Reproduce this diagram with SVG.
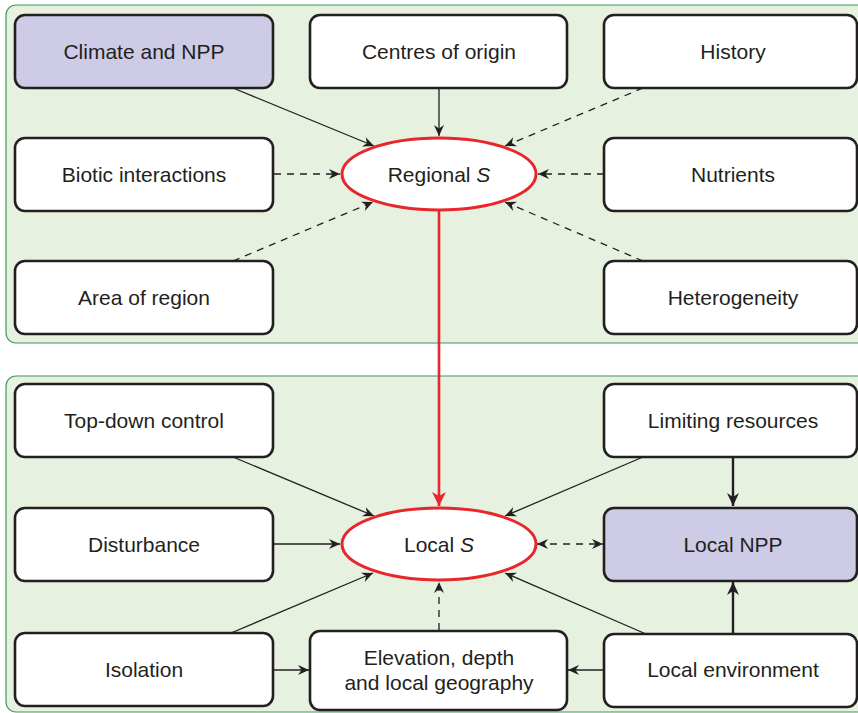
<svg xmlns="http://www.w3.org/2000/svg" width="858" height="713" viewBox="0 0 858 713">
  <style>
    .panel { fill: #e6f1df; stroke: #3d9a5c; stroke-width: 1.2; }
    .box { fill: #ffffff; stroke: #231f20; stroke-width: 2.6; }
    .npp { fill: #cdcbe6; stroke: #231f20; stroke-width: 2.6; }
    .ell { fill: #ffffff; stroke: #e8262b; stroke-width: 3; }
    text { font-family: "Liberation Sans", Arial, sans-serif; font-size: 21px; fill: #231f20; text-anchor: middle; }
    .solid { stroke: #231f20; stroke-width: 1.3; fill: none; marker-end: url(#arr); }
    .thick { stroke: #231f20; stroke-width: 2.4; fill: none; marker-end: url(#arrT); }
    .dash { stroke: #231f20; stroke-width: 1.3; fill: none; stroke-dasharray: 7 6; marker-end: url(#arr); }
    .red { stroke: #e8262b; stroke-width: 2.6; fill: none; marker-end: url(#arrR); }
  </style>
  <defs>
    <marker id="arr" viewBox="-12 -6 14 12" refX="0" refY="0" markerWidth="14" markerHeight="12" markerUnits="userSpaceOnUse" orient="auto-start-reverse">
      <path d="M-11,-5 L0,0 L-11,5 L-7.5,0 z" fill="#231f20"/>
    </marker>
    <marker id="arrT" viewBox="-14 -7 16 14" refX="0" refY="0" markerWidth="16" markerHeight="14" markerUnits="userSpaceOnUse" orient="auto">
      <path d="M-13,-6 L0,0 L-13,6 L-9,0 z" fill="#231f20"/>
    </marker>
    <marker id="arrR" viewBox="-15 -8 17 16" refX="0" refY="0" markerWidth="17" markerHeight="16" markerUnits="userSpaceOnUse" orient="auto">
      <path d="M-14,-7 L0,0 L-14,7 L-10,0 z" fill="#e8262b"/>
    </marker>
  </defs>

  <!-- background panels -->
  <rect class="panel" x="6" y="5" width="870" height="338" rx="10"/>
  <rect class="panel" x="6" y="376" width="870" height="336" rx="10"/>

  <!-- connectors -->
  <g id="connectors">
    <line class="solid" x1="233" y1="88" x2="374" y2="146"/>
    <line class="solid" x1="439" y1="88" x2="439" y2="136"/>
    <line class="dash" x1="643" y1="88" x2="505" y2="146"/>
    <line class="dash" x1="274" y1="174" x2="340" y2="174"/>
    <line class="dash" x1="604" y1="174" x2="538" y2="174"/>
    <line class="dash" x1="233" y1="261" x2="373" y2="202"/>
    <line class="dash" x1="643" y1="261" x2="505" y2="202"/>
    <line class="red" x1="439" y1="210" x2="439" y2="506"/>
    <line class="solid" x1="233" y1="457" x2="374" y2="516"/>
    <line class="solid" x1="643" y1="457" x2="505" y2="516"/>
    <line class="thick" x1="733" y1="457" x2="733" y2="506"/>
    <line class="solid" x1="274" y1="544" x2="340" y2="544"/>
    <line class="dash" x1="537" y1="544" x2="603" y2="544" style="marker-start: url(#arr)"/>
    <line class="solid" x1="231" y1="633" x2="373" y2="573"/>
    <line class="solid" x1="274" y1="670" x2="309" y2="670"/>
    <line class="dash" x1="439" y1="630" x2="439" y2="582"/>
    <line class="solid" x1="604" y1="670" x2="568" y2="670"/>
    <line class="solid" x1="646" y1="634" x2="505" y2="573"/>
    <line class="thick" x1="733" y1="634" x2="733" y2="582"/>
  </g>

  <!-- regional nodes -->
  <g id="climate-npp"><rect class="npp" x="15" y="15" width="258" height="73" rx="10"/><text x="144" y="59">Climate and NPP</text></g>
  <g id="centres-of-origin"><rect class="box" x="310" y="15" width="257" height="73" rx="10"/><text x="439" y="59">Centres of origin</text></g>
  <g id="history"><rect class="box" x="604" y="15" width="253" height="73" rx="10"/><text x="733" y="59">History</text></g>
  <g id="biotic-interactions"><rect class="box" x="15" y="138" width="258" height="73" rx="10"/><text x="144" y="182">Biotic interactions</text></g>
  <g id="nutrients"><rect class="box" x="604" y="138" width="253" height="73" rx="10"/><text x="733" y="182">Nutrients</text></g>
  <g id="area-of-region"><rect class="box" x="15" y="261" width="258" height="73" rx="10"/><text x="144" y="305">Area of region</text></g>
  <g id="heterogeneity"><rect class="box" x="604" y="261" width="253" height="73" rx="10"/><text x="733" y="305">Heterogeneity</text></g>
  <g id="regional-s"><ellipse class="ell" cx="439" cy="174" rx="97" ry="36"/><text x="439" y="182">Regional <tspan font-style="italic">S</tspan></text></g>

  <!-- local nodes -->
  <g id="top-down-control"><rect class="box" x="15" y="384" width="258" height="73" rx="10"/><text x="144" y="428">Top-down control</text></g>
  <g id="limiting-resources"><rect class="box" x="604" y="384" width="253" height="73" rx="10"/><text x="733" y="428">Limiting resources</text></g>
  <g id="disturbance"><rect class="box" x="15" y="508" width="258" height="73" rx="10"/><text x="144" y="552">Disturbance</text></g>
  <g id="local-npp"><rect class="npp" x="604" y="508" width="253" height="73" rx="10"/><text x="733" y="552">Local NPP</text></g>
  <g id="local-s"><ellipse class="ell" cx="439" cy="544" rx="97" ry="36"/><text x="439" y="552">Local <tspan font-style="italic">S</tspan></text></g>
  <g id="isolation"><rect class="box" x="15" y="633" width="258" height="73" rx="10"/><text x="144" y="677">Isolation</text></g>
  <g id="elevation"><rect class="box" x="310" y="631" width="257" height="79" rx="10"/><text x="439" y="665">Elevation, depth</text><text x="439" y="690">and local geography</text></g>
  <g id="local-environment"><rect class="box" x="604" y="634" width="253" height="73" rx="10"/><text x="733" y="677">Local environment</text></g>
</svg>
